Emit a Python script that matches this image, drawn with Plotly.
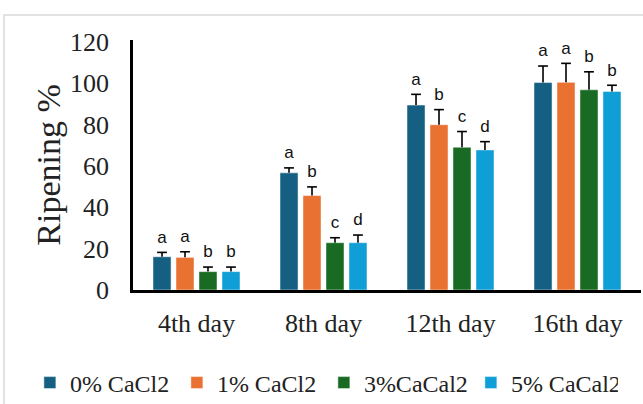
import plotly.graph_objects as go

days = ["4th day", "8th day", "12th day", "16th day"]
series_names = ["0% CaCl2", "1% CaCl2", "3%CaCal2", "5% CaCal2"]
colors = ["#156082", "#E97132", "#196B24", "#0F9ED5"]

s0 = [16.1, 56.7, 89.5, 100.4]
s1 = [15.8, 45.7, 80.0, 100.5]
s2 = [8.9, 22.9, 69.1, 96.9]
s3 = [8.9, 22.9, 67.8, 96.1]
values = [s0, s1, s2, s3]

e0 = [2.1, 2.4, 5.2, 8.0]
e1 = [2.7, 4.2, 7.3, 9.2]
e2 = [2.2, 2.4, 7.6, 8.7]
e3 = [2.2, 3.7, 4.0, 3.0]
errors = [e0, e1, e2, e3]

l0 = ["a", "a", "a", "a"]
l1 = ["a", "b", "b", "a"]
l2 = ["b", "c", "c", "b"]
l3 = ["b", "d", "d", "b"]
letters = [l0, l1, l2, l3]

pitch = 0.181
bar_w = 0.142

fig = go.Figure()
for j in range(4):
    xs = [i + (j - 1.5) * pitch for i in range(len(days))]
    fig.add_trace(go.Bar(
        x=xs, y=values[j], width=bar_w, name=series_names[j],
        marker=dict(color=colors[j], line=dict(color="rgba(255,255,255,0.6)", width=0.8)),
        error_y=dict(type="data", symmetric=False, array=errors[j],
                     arrayminus=[0] * len(days), width=0, thickness=1.6, color="black"),
    ))
for j in range(4):
    xs = [i + (j - 1.5) * pitch for i in range(len(days))]
    tops = [v + e for v, e in zip(values[j], errors[j])]
    fig.add_trace(go.Scatter(
        x=xs, y=tops, mode="markers+text", text=letters[j], textposition="top center",
        textfont=dict(family="Liberation Sans", size=17, color="#111"),
        marker=dict(symbol="line-ew", size=7, color="black", line=dict(color="black", width=1.6)),
        showlegend=False, hoverinfo="skip", cliponaxis=False,
    ))

fig.update_layout(
    width=643, height=404,
    margin=dict(l=133, r=2, t=40, b=114, autoexpand=False),
    paper_bgcolor="white", plot_bgcolor="white",
    barmode="overlay",
    showlegend=True,
    legend=dict(orientation="h", x=-0.203, xanchor="left", y=-0.372, yanchor="middle",
                font=dict(family="Liberation Serif", size=24, color="#222"),
                entrywidth=102, entrywidthmode="pixels", itemwidth=30,
                bgcolor="rgba(0,0,0,0)", traceorder="normal"),
    font=dict(family="Liberation Serif", color="#222"),
    shapes=[dict(type="rect", xref="paper", yref="paper",
                 x0=-0.254, x1=1.05, y0=-0.5, y1=1.1,
                 line=dict(color="#d9d9d9", width=1.5), layer="below")],
)
fig.update_xaxes(
    range=[-0.5, 3.5], tickvals=list(range(len(days))), ticktext=days,
    showline=True, linecolor="black", linewidth=2.5, showgrid=False, zeroline=False,
    ticks="", tickfont=dict(family="Liberation Serif", size=26, color="#222"),
    ticklabelstandoff=8, automargin=False,
)
fig.update_yaxes(
    range=[0, 121], tickvals=[0, 20, 40, 60, 80, 100, 120],
    showline=True, linecolor="black", linewidth=2.5, showgrid=False, zeroline=False,
    ticks="", tickfont=dict(family="Liberation Serif", size=26, color="#222"),
    ticklabelstandoff=16, automargin=False,
    title=dict(text="Ripening %", font=dict(family="Liberation Serif", size=34, color="#222"), standoff=0),
)
fig.write_html("out.html", config={"displayModeBar": False},
               post_script="document.body.style.margin='0';document.body.style.overflow='hidden';")
